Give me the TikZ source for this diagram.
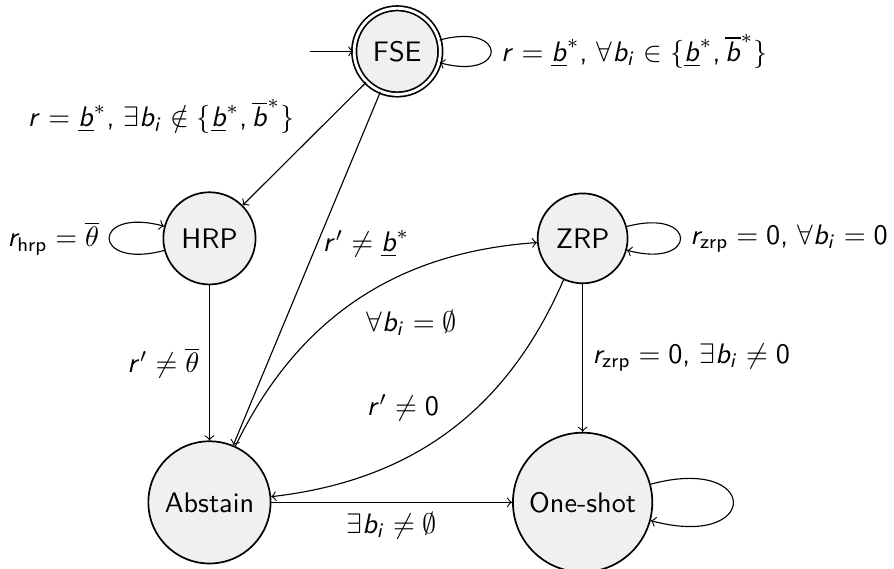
\documentclass[tikz,border=0pt]{standalone}
\usepackage{amsmath}
\usepackage{tikz}
% Mathe in Sans (kursiv), Griechisch aus cmm
\DeclareSymbolFont{letters}{OT1}{cmss}{m}{sl}
\DeclareSymbolFont{operators}{OT1}{cmss}{m}{n}
\DeclareSymbolFont{griech}{OML}{cmm}{m}{it}
\DeclareMathSymbol{\theta}{\mathord}{griech}{"12}
\mathcode`\,="602C
\mathcode`\/="002F
\definecolor{zfill}{HTML}{F0F0F0}
\tikzset{
  zust/.style={circle,draw,semithick,fill=zfill,inner sep=4.4pt},
  endzust/.style={zust,double,double distance=1pt},
  pfeil/.style={->,line width=0.4pt},
}

\begin{document}
\begin{tikzpicture}[font=\sffamily]
  \useasboundingbox (0,0) rectangle (11.14,7.09);
  \node[endzust] (fse) at (4.95,6.45) {FSE};
  \node[zust] (hrp) at (2.61,4.12) {HRP};
  \node[zust] (zrp) at (7.26,4.12) {ZRP};
  \node[zust] (abst) at (2.61,0.83) {Abstain};
  \node[zust] (one) at (7.26,0.83) {One-shot};
  \coordinate (start) at (3.86,6.45);
  \draw[pfeil] (start) -- (fse);
  \draw[pfeil] (fse) to[loop right] node[right]{$r = \underline{b}^*$, $\forall b_i \in \{\underline{b}^*, \overline{b}^*\}$} ();
  \draw[pfeil] (fse) -- node[above left]{$r = \underline{b}^*$, $\exists b_i \notin \{\underline{b}^*, \overline{b}^*\}$} (hrp);
  \draw[pfeil] (fse) -- node[pos=0.43,right,xshift=-1.5pt]{$r' \neq \underline{b}^*$} (abst);
  \draw[pfeil] (hrp) to[loop left] node[left]{$r_{\text{hrp}} = \overline{\theta}$} ();
  \draw[pfeil] (hrp) -- node[left]{$r' \neq \overline{\theta}$} (abst);
  \draw[pfeil] (zrp) to[loop right] node[right]{$r_{\text{zrp}} = 0$, $\forall b_i = 0$} ();
  \draw[pfeil] (zrp) -- node[right]{$r_{\text{zrp}} = 0$, $\exists b_i \neq 0$} (one);
  \draw[pfeil] (abst) to[bend left] node[below right]{$\forall b_i = \emptyset$} (zrp);
  \draw[pfeil] (zrp) to[bend left] node[above left]{$r' \neq 0$} (abst);
  \draw[pfeil] (abst) -- node[below]{$\exists b_i \neq \emptyset$} (one);
  \draw[pfeil] (one) to[loop right] ();
\end{tikzpicture}
\end{document}
